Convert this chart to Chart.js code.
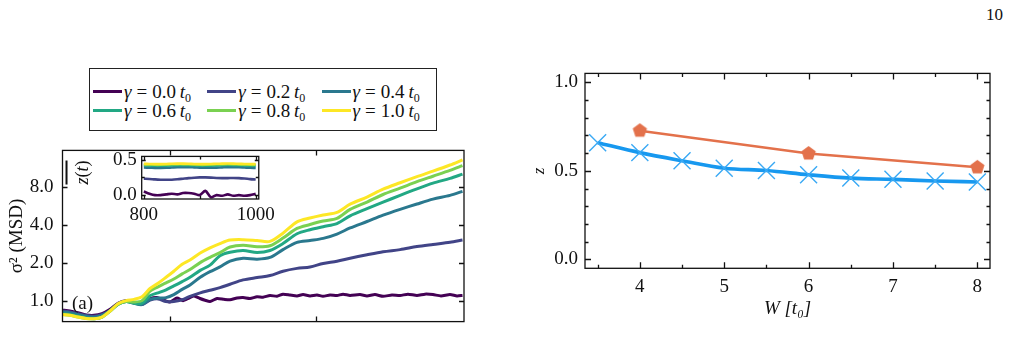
<!DOCTYPE html>
<html>
<head>
<meta charset="utf-8">
<script src="https://cdn.jsdelivr.net/npm/chart.js@4.4.1/dist/chart.umd.min.js"></script>
<style>
  body { margin: 0; width: 1012px; height: 342px; background: #fff; position: relative; overflow: hidden;
         font-family: 'Liberation Serif', 'DejaVu Serif', serif; color: #111; }
  canvas { position: absolute; }
  .txt { position: absolute; white-space: nowrap; }
  #legend { position: absolute; left: 89px; top: 68px; width: 348px; height: 63px; border: 1.2px solid #222; box-sizing: border-box; }
  .item { position: absolute; display: flex; align-items: center; font-size: 19px; height: 19px; white-space: nowrap; }
  .swatch { display: inline-block; width: 29px; height: 3.5px; margin-right: 2px; }
  .eq { margin: 0 5px; }
  sub { font-size: 12px; vertical-align: -4px; line-height: 0; }
</style>
</head>
<body>
<div class="txt" style="left:986px; top:5px; font-size:17px;">10</div>
<div id="legend"></div>
<canvas id="msd" width="480" height="212" style="left:0; top:130px;"></canvas>
<canvas id="inset" width="210" height="92" style="left:70px; top:140px;"></canvas>
<div class="txt" style="left:70px; top:162px; font-size:18px; transform: rotate(-90deg); transform-origin: 50% 50%;">
  <span style="border-top: 2px solid #111; padding-top: 4px;"><i>z</i>(<i>t</i>)</span></div>
<div class="txt" style="left:72px; top:292px; font-size:19px;">(a)</div>
<canvas id="zfit" width="492" height="287" style="left:520px; top:55px;"></canvas>
<script>
// ---- panel (a): mean squared displacement, log-log ----
const gammas = ['0.0', '0.2', '0.4', '0.6', '0.8', '1.0'];
const colors = ['#440154', '#414487', '#2a788e', '#22a884', '#7ad151', '#fde725'];

// gamma = 0 is read on a finer time grid (it wiggles most)
const time00 = [1.86, 2.09, 2.37, 2.69, 3.05, 3.46, 3.93, 4.45, 5.05, 5.72, 6.49, 7.36,
  8.22, 9.03, 10.08, 11.25, 12.36, 13.59, 14.70, 16.15, 17.47, 18.90, 21.10, 23.55, 25.88, 28.89,
  31.75, 35.43, 39.56, 43.48, 48.53, 54.19, 59.52, 66.45, 74.19, 81.54, 91.0, 101.6, 111.6, 124.6,
  139.1, 152.9, 170.7, 199.7, 222.9, 252.7, 286.6, 330.2, 374.5, 424.6, 489.2, 554.6, 628.9, 713.2,
  821.6, 917.5, 1000];
const msd00 = [0.845, 0.832, 0.806, 0.775, 0.769, 0.793, 0.858, 0.958, 1.005, 0.974, 0.943, 1.037,
  1.062, 1.021, 0.981, 1.053, 1.005, 1.053, 1.095, 1.045, 1.013, 0.989, 1.045, 1.029, 1.021, 1.053,
  1.062, 1.045, 1.079, 1.070, 1.104, 1.087, 1.131, 1.113, 1.095, 1.122, 1.095, 1.113, 1.087, 1.113,
  1.104, 1.131, 1.104, 1.122, 1.095, 1.122, 1.087, 1.113, 1.104, 1.131, 1.104, 1.131, 1.122, 1.095,
  1.122, 1.095, 1.104];

const time = [1.86, 2.09, 2.37, 2.69, 3.05, 3.46, 3.93, 4.45, 5.05, 5.72, 6.49, 7.36, 8.35, 9.47,
  10.7, 12.2, 13.8, 16.2, 18.9, 22.1, 25.9, 31.8, 39.6, 48.5, 59.5, 74.2, 91.0, 112, 139, 171,
  223, 287, 375, 489, 629, 822, 1000];
const msd02 = [0.832, 0.819, 0.793, 0.769, 0.757, 0.781, 0.838, 0.951, 0.997, 0.966, 0.936, 1.013, 1.037,
  0.989, 0.989, 1.021, 1.087, 1.158, 1.214, 1.273, 1.355, 1.466, 1.530, 1.587, 1.717, 1.808, 1.857,
  1.978, 2.057, 2.174, 2.316, 2.447, 2.545, 2.690, 2.797, 2.910, 3.027];
const msd04 = [0.819, 0.806, 0.781, 0.757, 0.745, 0.769, 0.838, 0.943, 0.989, 0.958, 0.936, 1.029, 1.053,
  1.062, 1.122, 1.233, 1.334, 1.537, 1.703, 1.857, 2.064, 2.174, 2.140, 2.209, 2.545, 2.901, 3.003,
  3.123, 3.380, 3.773, 4.247, 4.764, 5.294, 5.839, 6.377, 6.835, 7.348];
const msd06 = [0.793, 0.781, 0.757, 0.733, 0.722, 0.745, 0.832, 0.936, 0.989, 0.958, 0.958, 1.099, 1.158,
  1.223, 1.313, 1.421, 1.537, 1.744, 1.917, 2.280, 2.427, 2.505, 2.416, 2.505, 2.842, 3.396, 3.657,
  3.864, 4.083, 4.705, 5.361, 6.035, 6.835, 7.692, 8.534, 9.307, 10.07];
const msd08 = [0.781, 0.769, 0.745, 0.727, 0.722, 0.745, 0.832, 0.943, 0.989, 0.981, 1.005, 1.195, 1.293,
  1.388, 1.490, 1.637, 1.772, 2.009, 2.209, 2.409, 2.668, 2.754, 2.681, 2.732, 3.138, 3.744, 4.019,
  4.280, 4.487, 5.294, 6.054, 6.944, 7.789, 8.765, 9.681, 10.76, 11.73];
const msd10 = [0.781, 0.769, 0.745, 0.727, 0.722, 0.745, 0.832, 0.951, 1.005, 1.029, 1.079, 1.253, 1.377,
  1.537, 1.717, 1.947, 2.107, 2.390, 2.626, 2.842, 3.027, 3.051, 3.003, 2.956, 3.433, 4.214, 4.523,
  4.779, 5.010, 5.820, 6.623, 7.643, 8.601, 9.620, 10.62, 11.88, 13.04];
const msdTicks = [1, 2, 4, 8];
const timeTicks = [10, 100];

// inset: z(t) for the last part of the run
const tInset = [800, 810, 820, 830, 840, 850, 860, 870, 880, 890, 900, 910, 920, 930, 940, 950, 960, 970, 980, 990, 1000];
const z00 = [0.05, 0.02, 0.0, 0.0, 0.01, 0.02, 0.01, 0.03, 0.03, 0.02, 0.0, 0.06, -0.03, 0.0, -0.01, 0.01, -0.01, 0.0, -0.01, 0.0, 0.02];
const z02 = [0.232, 0.228, 0.222, 0.218, 0.216, 0.218, 0.224, 0.232, 0.24, 0.246, 0.25, 0.25, 0.247, 0.242, 0.24, 0.24, 0.242, 0.24, 0.234, 0.226, 0.22];
const z04 = [0.39, 0.388, 0.385, 0.384, 0.386, 0.39, 0.394, 0.396, 0.395, 0.392, 0.389, 0.387, 0.387, 0.389, 0.392, 0.395, 0.396, 0.394, 0.39, 0.386, 0.384];
const z06 = [0.42, 0.418, 0.415, 0.414, 0.416, 0.42, 0.423, 0.424, 0.422, 0.419, 0.417, 0.416, 0.417, 0.42, 0.423, 0.425, 0.424, 0.421, 0.418, 0.416, 0.416];
const z08 = [0.432, 0.43, 0.428, 0.428, 0.43, 0.433, 0.435, 0.435, 0.433, 0.43, 0.428, 0.428, 0.43, 0.433, 0.435, 0.436, 0.435, 0.432, 0.43, 0.428, 0.428];
const z10 = [0.442, 0.44, 0.438, 0.438, 0.44, 0.443, 0.445, 0.445, 0.443, 0.44, 0.438, 0.438, 0.44, 0.443, 0.445, 0.446, 0.445, 0.442, 0.44, 0.438, 0.438];

// ---- right panel: exponent z against W ----
const wAll = [3.5, 4, 4.5, 5, 5.5, 6, 6.5, 7, 7.5, 8];
const zAll = [0.659, 0.603, 0.557, 0.515, 0.502, 0.478, 0.459, 0.452, 0.443, 0.437];
const wSome = [4, 6, 8];
const zSome = [0.727, 0.598, 0.520];

const msdSeries = [msd00, msd02, msd04, msd06, msd08, msd10];
const zSeries = [z00, z02, z04, z06, z08, z10];

const FONT = "'Liberation Serif', 'DejaVu Serif', serif";
Chart.defaults.font.family = FONT;
Chart.defaults.font.size = 19;
Chart.defaults.color = '#111';
Chart.defaults.animation = false;

// legend (html, boxed like the matplotlib one)
const legend = document.getElementById('legend');
gammas.forEach((g, i) => {
  const d = document.createElement('div');
  d.className = 'item';
  d.style.left = (3 + (i % 3) * 114.3) + 'px';
  d.style.top = (13 + Math.floor(i / 3) * 19) + 'px';
  d.innerHTML = '<span class="swatch" style="background:' + colors[i] + '"></span>' +
    '<span><i>γ</i><span class="eq">=</span>' + g + '&thinsp;<i>t</i><sub>0</sub></span>';
  legend.appendChild(d);
});

// frame + inward ticks on all four sides
const frameTicks = {
  id: 'frameTicks',
  beforeDatasetsDraw(chart, args, opts) {
    if (!opts.fill) return;
    const a = chart.chartArea, ctx = chart.ctx;
    ctx.save(); ctx.fillStyle = opts.fill;
    ctx.fillRect(a.left, a.top, a.right - a.left, a.bottom - a.top);
    ctx.restore();
  },
  afterDatasetsDraw(chart, args, opts) {
    const {ctx, chartArea: a, scales} = chart;
    ctx.save();
    ctx.strokeStyle = '#111';
    ctx.lineWidth = 1.3;
    ctx.strokeRect(a.left, a.top, a.right - a.left, a.bottom - a.top);
    const xs = (list, len) => list.forEach(v => {
      const p = Math.round(scales.x.getPixelForValue(v)) + 0.5;
      ctx.beginPath();
      ctx.moveTo(p, a.bottom); ctx.lineTo(p, a.bottom - len);
      ctx.moveTo(p, a.top); ctx.lineTo(p, a.top + len);
      ctx.stroke();
    });
    const ys = (list, len) => list.forEach(v => {
      const p = Math.round(scales.y.getPixelForValue(v)) + 0.5;
      ctx.beginPath();
      ctx.moveTo(a.left, p); ctx.lineTo(a.left + len, p);
      ctx.moveTo(a.right, p); ctx.lineTo(a.right - len, p);
      ctx.stroke();
    });
    xs(scales.x.ticks.map(t => t.value), opts.major || 6);
    ys(scales.y.ticks.map(t => t.value), opts.major || 6);
    xs(opts.xMinor || [], opts.minor || 3);
    ys(opts.yMinor || [], opts.minor || 3);
    ctx.restore();
  }
};
Chart.register(frameTicks);

const fixed = (vals) => (s) => { s.ticks = vals.map(v => ({value: v})); };

new Chart(document.getElementById('msd'), {
  type: 'scatter',
  data: {
    datasets: msdSeries.map((s, i) => {
      const tt = i === 0 ? time00 : time;
      return {
        label: 'γ = ' + gammas[i] + ' t0',
        data: tt.map((t, k) => ({x: t, y: s[k]})),
        showLine: true,
        borderColor: colors[i],
        borderWidth: 3,
        pointRadius: 0,
        tension: i === 0 ? 0.2 : 0.3,
        order: 6 - i
      };
    })
  },
  options: {
    responsive: false,
    devicePixelRatio: 1,
    layout: { padding: { top: 10.5, right: 16, left: 0, bottom: 0 } },
    plugins: { legend: { display: false }, tooltip: { enabled: false },
      frameTicks: { major: 5 } },
    scales: {
      x: {
        type: 'logarithmic', min: 1.86, max: 1024,
        afterBuildTicks: fixed(timeTicks),
        afterFit: (s) => { s.height = 3.7; },
        grid: { display: false, drawTicks: false },
        border: { display: false },
        ticks: { display: false }
      },
      y: {
        type: 'logarithmic', min: 0.686, max: 15.5,
        afterBuildTicks: fixed(msdTicks),
        afterFit: (s) => { s.width = 62.5; },
        grid: { display: false, drawTicks: false },
        border: { display: false },
        ticks: { padding: 9, callback: (v) => Number(v).toFixed(1) },
        title: { display: true, text: 'σ² (MSD)', padding: { top: 6 }, font: { size: 19 } }
      }
    }
  }
});

new Chart(document.getElementById('inset'), {
  type: 'scatter',
  data: {
    datasets: zSeries.map((s, i) => ({
      data: tInset.map((t, k) => ({x: t, y: s[k]})),
      showLine: true,
      borderColor: colors[i],
      borderWidth: 2.6,
      pointRadius: 0,
      tension: 0.3,
      order: 6 - i
    }))
  },
  options: {
    responsive: false,
    devicePixelRatio: 1,
    layout: { padding: { top: 7.7, right: 11.7, left: 0, bottom: 0 } },
    plugins: { legend: { display: false }, tooltip: { enabled: false },
      frameTicks: { fill: '#fff', major: 4, minor: 3, xMinor: [900], yMinor: [0.25] } },
    scales: {
      x: {
        type: 'linear', min: 796.2, max: 1005.5,
        afterBuildTicks: fixed([800, 1000]),
        afterFit: (s) => { s.height = 33; },
        grid: { display: false, drawTicks: false },
        border: { display: false },
        ticks: { padding: 5, maxRotation: 0, autoSkip: false, callback: (v) => String(v) }
      },
      y: {
        type: 'linear', min: -0.055, max: 0.547,
        afterBuildTicks: fixed([0, 0.5]),
        afterFit: (s) => { s.width = 71.7; },
        grid: { display: false, drawTicks: false },
        border: { display: false },
        ticks: { padding: 5, callback: (v) => Number(v).toFixed(1) }
      }
    }
  }
});

function pentagon(r, color) {
  const c = document.createElement('canvas');
  c.width = c.height = 2 * r + 2;
  const g = c.getContext('2d');
  g.fillStyle = color;
  g.beginPath();
  for (let i = 0; i < 5; i++) {
    const a = -Math.PI / 2 + i * 2 * Math.PI / 5;
    g.lineTo(r + 1 + r * Math.cos(a), r + 1 + r * Math.sin(a));
  }
  g.closePath();
  g.fill();
  return c;
}

new Chart(document.getElementById('zfit'), {
  type: 'scatter',
  data: {
    datasets: [
      {
        data: wSome.map((w, k) => ({x: w, y: zSome[k]})),
        showLine: true,
        borderColor: '#e3714b',
        borderWidth: 2.6,
        pointStyle: pentagon(7.5, '#e3714b'),
        pointRadius: 8,
        order: 1
      },
      {
        data: wAll.map((w, k) => ({x: w, y: zAll[k]})),
        showLine: true,
        borderColor: '#1798ef',
        borderWidth: 3.6,
        pointRadius: 0,
        cubicInterpolationMode: 'monotone',
        order: 3
      },
      {
        data: wAll.map((w, k) => ({x: w, y: zAll[k]})),
        showLine: false,
        pointStyle: 'crossRot',
        pointRadius: 12,
        pointBorderWidth: 1.4,
        pointBorderColor: '#3aa9f4',
        order: 2
      }
    ]
  },
  options: {
    responsive: false,
    devicePixelRatio: 1,
    layout: { padding: { top: 14, right: 22, left: 0, bottom: 0 } },
    plugins: { legend: { display: false }, tooltip: { enabled: false },
      frameTicks: { major: 6, minor: 3.5,
        xMinor: [3.5, 4.5, 5.5, 6.5, 7.5],
        yMinor: [0.1, 0.2, 0.3, 0.4, 0.6, 0.7, 0.8, 0.9] } },
    scales: {
      x: {
        type: 'linear', min: 3.35, max: 8.15,
        afterBuildTicks: fixed([4, 5, 6, 7, 8]),
        afterFit: (s) => { s.height = 73.7; },
        grid: { display: false, drawTicks: false },
        border: { display: false },
        ticks: { padding: 7, maxRotation: 0 },
        title: { display: true, text: 'W [t₀]', padding: { bottom: 22 }, font: { size: 19, style: 'italic' } }
      },
      y: {
        type: 'linear', min: -0.051, max: 1.051,
        afterBuildTicks: fixed([0, 0.5, 1]),
        afterFit: (s) => { s.width = 65; },
        grid: { display: false, drawTicks: false },
        border: { display: false },
        ticks: { padding: 7, callback: (v) => Number(v).toFixed(1) },
        title: { display: true, text: 'z', padding: { top: 9 }, font: { size: 17, style: 'italic' } }
      }
    }
  }
});
</script>
</body>
</html>
